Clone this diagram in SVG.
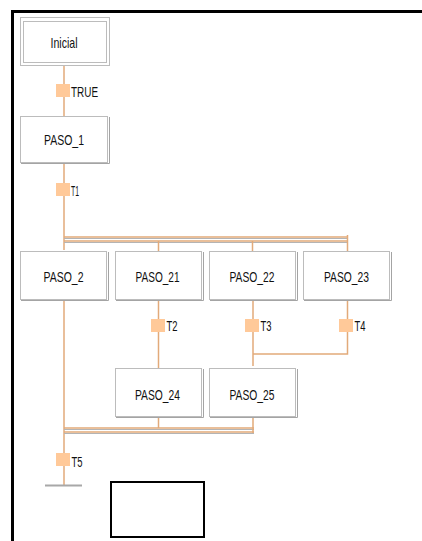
<svg xmlns="http://www.w3.org/2000/svg" width="422" height="541" viewBox="0 0 422 541">
<style>
.box{fill:#fff;stroke:#bcbcbc;stroke-width:1}
.sh{fill:none;stroke:#a4a4a4;stroke-width:1}
.lbl{font-family:"Liberation Sans",Arial,sans-serif;font-size:15px;fill:#111}
.nm{text-anchor:middle}
.c{fill:none;stroke:#e2aa7a;stroke-width:1.5}
.cg{fill:none;stroke:#b4b4b4;stroke-width:1}
.tr{fill:#ffc999;stroke:none}
</style>
<rect width="422" height="541" fill="#fff"/>
<path d="M12.5,541 V11.5 H422" fill="none" stroke="#000" stroke-width="3"/>
<g id="connectors">
<path class="c" d="M64,66 V116"/>
<path class="c" d="M64,162 V250"/>
<path class="c" d="M64,237 H348 M64,241 H348"/>
<path class="cg" d="M64,238.5 H348 M64,242.5 H348"/>
<path class="c" d="M347.5,235 V251 M158.5,241 V251 M252.5,241 V251"/>
<path class="c" d="M158.5,300 V368"/>
<path class="c" d="M253,300 V366"/>
<path class="c" d="M347.5,300 V354 H253"/>
<path class="c" d="M64,300 V485"/>
<path class="c" d="M64,428 H254 M64,432 H254"/>
<path class="cg" d="M64,429.5 H254 M64,433.5 H254"/>
<path class="c" d="M158.5,417 V428 M253,417 V433"/>
<path d="M45,485.5 H82" fill="none" stroke="#a8a8a8" stroke-width="2"/>
</g>
<g id="t_true"><rect class="tr" x="56" y="84" width="14" height="13"/><text class="lbl" x="71" y="96.5" textLength="27" lengthAdjust="spacingAndGlyphs">TRUE</text></g>
<g id="t_t1"><rect class="tr" x="56" y="183" width="14" height="13"/><text class="lbl" x="71" y="195.5" textLength="8" lengthAdjust="spacingAndGlyphs">T1</text></g>
<g id="t_t2"><rect class="tr" x="151" y="319" width="14" height="13"/><text class="lbl" x="166.5" y="331" textLength="11" lengthAdjust="spacingAndGlyphs">T2</text></g>
<g id="t_t3"><rect class="tr" x="245" y="319" width="14" height="13"/><text class="lbl" x="260.5" y="331" textLength="11" lengthAdjust="spacingAndGlyphs">T3</text></g>
<g id="t_t4"><rect class="tr" x="339" y="319" width="14" height="13"/><text class="lbl" x="354.5" y="331" textLength="11" lengthAdjust="spacingAndGlyphs">T4</text></g>
<g id="t_t5"><rect class="tr" x="56" y="453" width="14" height="13"/><text class="lbl" x="71.5" y="466.5" textLength="11" lengthAdjust="spacingAndGlyphs">T5</text></g>
<g id="inicial">
<rect class="box" x="20.5" y="17.5" width="89" height="48"/>
<rect class="box" x="23.5" y="21.5" width="83" height="41"/>
<text class="lbl nm" x="64" y="48" textLength="27" lengthAdjust="spacingAndGlyphs">Inicial</text>
</g>
<g id="paso_1">
<rect class="box" x="20.5" y="116.5" width="87" height="46"/>
<path class="sh" d="M109.5,117 V163.5 H21"/>
<text class="lbl nm" x="64" y="144.5" textLength="40" lengthAdjust="spacingAndGlyphs">PASO_1</text>
</g>
<g id="paso_2">
<rect class="box" x="20.5" y="251.5" width="86" height="48"/>
<path class="sh" d="M108.5,252 V300.5 H21"/>
<text class="lbl nm" x="63.5" y="282" textLength="40" lengthAdjust="spacingAndGlyphs">PASO_2</text>
</g>
<g id="paso_21">
<rect class="box" x="115.5" y="251.5" width="86" height="48"/>
<path class="sh" d="M203.5,252 V300.5 H116"/>
<text class="lbl nm" x="157.5" y="282" textLength="44" lengthAdjust="spacingAndGlyphs">PASO_21</text>
</g>
<g id="paso_22">
<rect class="box" x="209.5" y="251.5" width="86" height="48"/>
<path class="sh" d="M297.5,252 V300.5 H210"/>
<text class="lbl nm" x="252" y="282" textLength="45" lengthAdjust="spacingAndGlyphs">PASO_22</text>
</g>
<g id="paso_23">
<rect class="box" x="303.5" y="251.5" width="86" height="48"/>
<path class="sh" d="M391.5,252 V300.5 H304"/>
<text class="lbl nm" x="346.5" y="282" textLength="45" lengthAdjust="spacingAndGlyphs">PASO_23</text>
</g>
<g id="paso_24">
<rect class="box" x="115.5" y="368.5" width="86" height="48"/>
<path class="sh" d="M203.5,369 V417.5 H116"/>
<text class="lbl nm" x="157.5" y="399.5" textLength="45" lengthAdjust="spacingAndGlyphs">PASO_24</text>
</g>
<g id="paso_25">
<rect class="box" x="209.5" y="368.5" width="86" height="48"/>
<path class="sh" d="M297.5,369 V417.5 H210"/>
<text class="lbl nm" x="252" y="399.5" textLength="45" lengthAdjust="spacingAndGlyphs">PASO_25</text>
</g>
<g id="empty_box"><rect x="111" y="482" width="93" height="55" fill="#fff" stroke="#000" stroke-width="2"/></g>
</svg>
